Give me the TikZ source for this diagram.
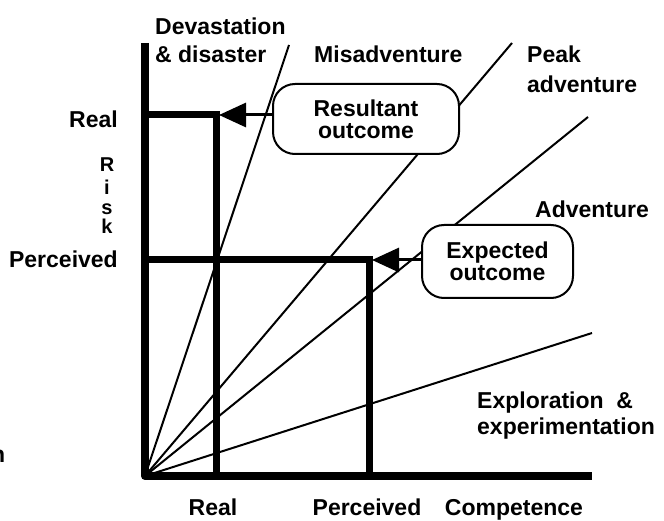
\documentclass[tikz,border=0pt]{standalone}
\usepackage{fontspec}
\setmainfont{Liberation Sans}
\usetikzlibrary{arrows.meta}

\begin{document}
\begin{tikzpicture}[x=1pt, y=-1pt,
    every node/.style={font=\fontsize{23}{23}\selectfont\bfseries, inner sep=0pt},
    axisline/.style={line width=8pt, line join=round},
    guideline/.style={line width=7pt},
    ray/.style={line width=2pt},
    outcomebox/.style={draw, line width=2pt, fill=white, rounded corners=22pt,
        align=center, font=\fontsize{23}{22}\selectfont\bfseries},
    pointer/.style={line width=3pt, -{Triangle[length=27pt, width=24pt]}},
    lbl/.style={anchor=base west},
    lblr/.style={anchor=base east},
    lblc/.style={anchor=base},
    riskletter/.style={anchor=base, font=\fontsize{20}{20}\selectfont\bfseries}]

  % page frame
  \useasboundingbox (0,0) rectangle (664,521);

  % key points
  \coordinate (O) at (145,476);
  \coordinate (ytop) at (145,43);
  \coordinate (xend) at (592,476);
  \coordinate (realrisk) at (145,115);
  \coordinate (realcomp) at (216,476);
  \coordinate (percrisk) at (145,260);
  \coordinate (perccomp) at (369,476);
  \coordinate (realtip) at (219,115);
  \coordinate (perctip) at (372,260);

  % ray ends
  \coordinate (devend) at (289,45);
  \coordinate (misend) at (512,43);
  \coordinate (peakend) at (588,117);
  \coordinate (explend) at (592,333);

  % rays from the origin
  \draw[ray] (O) -- (devend);
  \draw[ray] (O) -- (misend);
  \draw[ray] (O) -- (peakend);
  \draw[ray] (O) -- (explend);

  % real and perceived guides
  \draw[guideline] (realrisk) -| (realcomp);
  \draw[guideline] (percrisk) -| (perccomp);

  % axes
  \draw[axisline] (ytop) -- (O) -- (xend);

  % outcome boxes
  \node[outcomebox, minimum width=186pt, minimum height=70pt] (res) at (366,119)
    {Resultant\\outcome};
  \node[outcomebox, minimum width=151pt, minimum height=73pt] (exp) at (497.5,261.5)
    {Expected\\outcome};

  \draw[pointer] (res.west |- realtip) -- (realtip);
  \draw[pointer] (exp.west |- perctip) -- (perctip);

  % region labels
  \node[lbl] (l1a) at (155,35) {Devastation};
  \node[lbl] (l1b) at (155,63) {\& disaster};
  \node[lbl] (l2) at (314,63) {Misadventure};
  \node[lbl] (l3a) at (527,63) {Peak};
  \node[lbl] (l3b) at (527,93) {adventure};
  \node[lbl] (l4) at (535,218) {Adventure};
  \node[lbl] (l5a) at (477,408) {Exploration\ \ \&};
  \node[lbl] (l5b) at (477,434) {experimentation};

  % risk axis labels
  \node[lblr] (yreal) at (118,128) {Real};
  \node[lblr] (yperc) at (118,268) {Perceived};
  \node[riskletter] (r1) at (107,172) {R};
  \node[riskletter] (r2) at (107,195) {i};
  \node[riskletter] (r3) at (107,215) {s};
  \node[riskletter] (r4) at (107,234) {k};

  % competence axis labels
  \node[lblc] (xreal) at (213,515) {Real};
  \node[lblc] (xperc) at (367,515) {Perceived};
  \node[lblc] (xcomp) at (514,515) {Competence};

  % cut-off letter at the left edge
  \node[lbl] (edge) at (-9,462) {n};
\end{tikzpicture}
\end{document}
